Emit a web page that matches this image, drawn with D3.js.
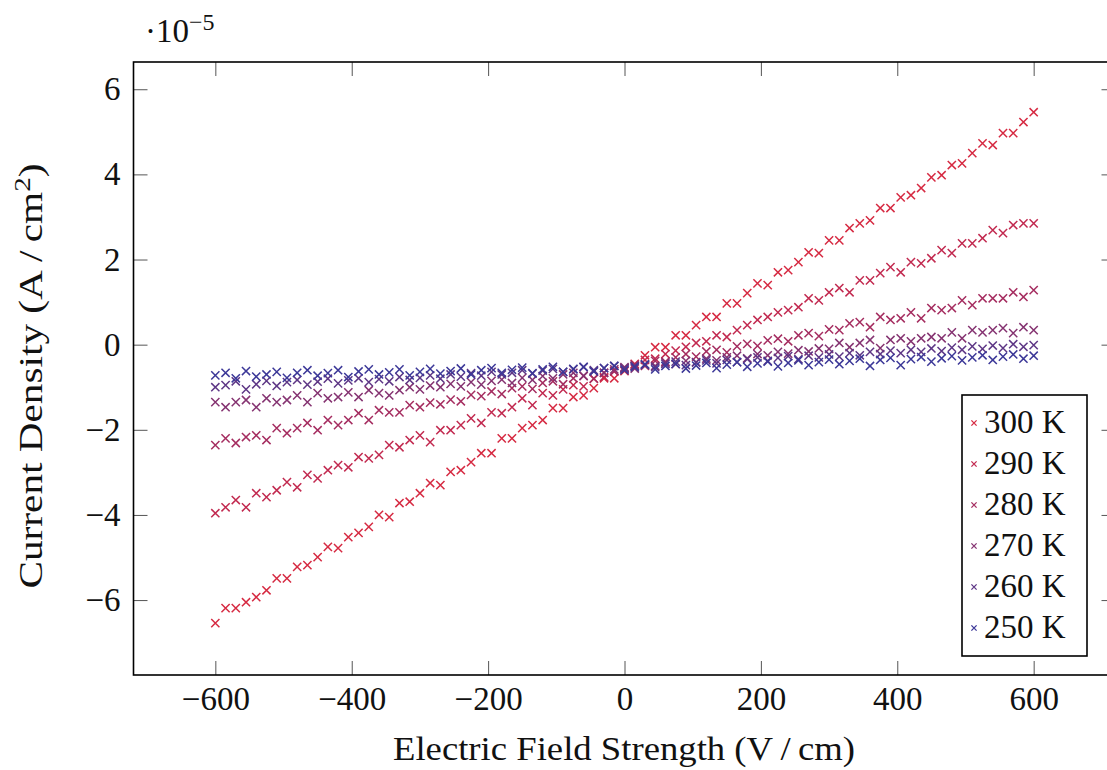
<!DOCTYPE html>
<html>
<head>
<meta charset="utf-8">
<script src="https://cdn.jsdelivr.net/npm/d3@7"></script>
<style>
    html, body { margin: 0; padding: 0; background: #fff; }
    svg { display: block; font-family: "Liberation Serif", "Times New Roman", serif; }
</style>
</head>
<body>
<div id="chart"></div>
<script>
// Champ électrique (V/cm)
const fieldStrength = [
    -600, -585, -570, -555, -540, -525, -510, -495, -480, -465, -450, -435, -420, -405, -390, -375, -360, -345, -330, -315,
    -300, -285, -270, -255, -240, -225, -210, -195, -180, -165, -150, -135, -120, -105, -90, -75, -60, -45, -30, -15,
    0, 15, 30, 45, 60, 75, 90, 105, 120, 135, 150, 165, 180, 195, 210, 225, 240, 255, 270, 285,
    300, 315, 330, 345, 360, 375, 390, 405, 420, 435, 450, 465, 480, 495, 510, 525, 540, 555, 570, 585, 600
];

// Densité de courant (x 1e-5 A/cm²), une série par température
const current300 = [
    -6.54, -6.19, -6.19, -6.05, -5.93, -5.77, -5.49, -5.49, -5.22, -5.18, -4.99, -4.75, -4.78, -4.52, -4.42, -4.28, -4.00, -4.05, -3.72, -3.69,
    -3.49, -3.25, -3.30, -2.99, -2.95, -2.76, -2.55, -2.55, -2.20, -2.20, -1.96, -1.89, -1.77, -1.49, -1.49, -1.23, -1.19, -1.02, -0.79, -0.79,
    -0.62, -0.45, -0.25, -0.06, -0.06, 0.22, 0.22, 0.46, 0.65, 0.65, 0.97, 0.97, 1.21, 1.44, 1.40, 1.70, 1.75, 1.94, 2.17, 2.15,
    2.45, 2.45, 2.74, 2.85, 2.92, 3.21, 3.21, 3.46, 3.51, 3.68, 3.93, 3.98, 4.22, 4.26, 4.50, 4.73, 4.69, 4.97, 4.97, 5.23, 5.46
];
const current290 = [
    -3.96, -3.82, -3.65, -3.82, -3.49, -3.58, -3.42, -3.23, -3.35, -3.06, -3.14, -2.95, -2.83, -2.88, -2.64, -2.67, -2.59, -2.36, -2.41, -2.24,
    -2.13, -2.29, -2.01, -2.01, -1.89, -1.73, -1.84, -1.59, -1.61, -1.47, -1.26, -1.42, -1.14, -1.19, -1.05, -0.95, -0.98, -0.80, -0.76, -0.62,
    -0.56, -0.50, -0.36, -0.33, -0.22, -0.14, -0.05, 0.04, 0.08, 0.22, 0.18, 0.34, 0.46, 0.58, 0.65, 0.76, 0.81, 0.88, 1.09, 1.04,
    1.23, 1.33, 1.23, 1.51, 1.51, 1.68, 1.82, 1.70, 1.94, 1.91, 2.03, 2.22, 2.15, 2.38, 2.38, 2.50, 2.69, 2.62, 2.81, 2.85, 2.85
];
const current280 = [
    -2.36, -2.20, -2.31, -2.17, -2.13, -2.24, -1.96, -2.08, -1.96, -1.84, -2.01, -1.77, -1.89, -1.77, -1.61, -1.77, -1.54, -1.59, -1.59, -1.42,
    -1.47, -1.36, -1.40, -1.29, -1.33, -1.18, -1.21, -1.10, -1.16, -1.02, -0.98, -1.04, -0.90, -0.86, -0.93, -0.79, -0.74, -0.80, -0.66, -0.63,
    -0.55, -0.47, -0.50, -0.38, -0.40, -0.30, -0.22, -0.28, -0.16, -0.12, -0.18, -0.04, 0.02, -0.03, 0.10, 0.14, 0.08, 0.22, 0.27, 0.20,
    0.36, 0.34, 0.50, 0.53, 0.41, 0.65, 0.58, 0.62, 0.76, 0.62, 0.86, 0.81, 0.86, 1.04, 0.93, 1.09, 1.09, 1.09, 1.23, 1.12, 1.28
];
const current270 = [
    -1.35, -1.47, -1.35, -1.30, -1.47, -1.26, -1.35, -1.30, -1.19, -1.35, -1.14, -1.26, -1.23, -1.12, -1.23, -1.07, -1.14, -1.19, -1.07, -1.00,
    -1.05, -0.96, -1.00, -0.92, -0.98, -0.88, -0.94, -0.85, -0.82, -0.90, -0.78, -0.83, -0.74, -0.79, -0.70, -0.66, -0.73, -0.62, -0.66, -0.58,
    -0.53, -0.56, -0.48, -0.50, -0.42, -0.46, -0.38, -0.41, -0.33, -0.37, -0.30, -0.26, -0.32, -0.22, -0.25, -0.17, -0.21, -0.13, -0.16, -0.09,
    -0.10, 0.04, -0.06, 0.04, 0.11, -0.08, 0.11, 0.15, 0.08, 0.15, 0.18, 0.15, 0.29, 0.15, 0.34, 0.29, 0.34, 0.39, 0.27, 0.41, 0.34
];
const current260 = [
    -1.00, -0.95, -0.86, -1.05, -0.93, -0.85, -0.97, -0.88, -0.83, -0.94, -0.87, -0.80, -0.91, -0.84, -0.79, -0.88, -0.81, -0.86, -0.76, -0.83,
    -0.78, -0.72, -0.80, -0.70, -0.75, -0.67, -0.73, -0.64, -0.70, -0.66, -0.60, -0.68, -0.61, -0.57, -0.64, -0.58, -0.53, -0.60, -0.55, -0.50,
    -0.56, -0.50, -0.46, -0.53, -0.45, -0.40, -0.48, -0.42, -0.37, -0.44, -0.36, -0.41, -0.34, -0.30, -0.38, -0.31, -0.27, -0.34, -0.26, -0.30,
    -0.23, -0.28, -0.20, -0.25, -0.17, -0.22, -0.14, -0.20, -0.12, -0.17, -0.09, -0.15, -0.07, -0.12, -0.04, -0.10, -0.02, -0.08, 0.01, -0.05, -0.01
];
const current250 = [
    -0.72, -0.66, -0.79, -0.62, -0.75, -0.70, -0.64, -0.78, -0.66, -0.60, -0.73, -0.67, -0.60, -0.76, -0.63, -0.58, -0.70, -0.65, -0.58, -0.72,
    -0.64, -0.57, -0.68, -0.62, -0.56, -0.70, -0.60, -0.55, -0.66, -0.59, -0.54, -0.67, -0.58, -0.52, -0.64, -0.57, -0.52, -0.63, -0.55, -0.50,
    -0.60, -0.53, -0.47, -0.58, -0.50, -0.45, -0.56, -0.49, -0.43, -0.55, -0.47, -0.41, -0.52, -0.44, -0.40, -0.51, -0.43, -0.37, -0.48, -0.41,
    -0.35, -0.46, -0.38, -0.33, -0.50, -0.36, -0.31, -0.48, -0.34, -0.29, -0.40, -0.32, -0.27, -0.37, -0.30, -0.25, -0.36, -0.28, -0.23, -0.33, -0.26
];

const temperatureLabels = ['300 K', '290 K', '280 K', '270 K', '260 K', '250 K'];
const seriesValues = [current300, current290, current280, current270, current260, current250];

const xTicks = [-600, -400, -200, 0, 200, 400, 600];
const yTicks = [-6, -4, -2, 0, 2, 4, 6];

// Couleurs : du rouge (300 K) vers le bleu (250 K)
const seriesColors = ['#d62a42', '#c22a50', '#a52d60', '#853371', '#5e3786', '#3c3898'];

const WIDTH = 1107;
const HEIGHT = 770;
const PLOT = { left: 133.5, right: 1115.5, top: 62, bottom: 675 };
const TICK = 14;

const fmtMinus = d => (d < 0 ? '\u2212' + Math.abs(d) : String(d));

function renderChart() {
    const svg = d3.select('#chart').append('svg')
        .attr('width', WIDTH)
        .attr('height', HEIGHT);

    const x = d3.scaleLinear().domain([-720, 720]).range([PLOT.left, PLOT.right]);
    const y = d3.scaleLinear().domain([-7.76, 6.64]).range([PLOT.bottom, PLOT.top]);

    // Axes (graduations vers l'intérieur sur les quatre côtés)
    const styleAxis = g => {
        g.select('.domain').remove();
        g.selectAll('.tick line').attr('stroke', '#555').attr('stroke-width', 1);
        g.selectAll('.tick text')
            .attr('fill', '#111')
            .attr('font-size', 33)
            .attr('font-family', '"Liberation Serif", serif');
    };

    svg.append('g')
        .attr('transform', `translate(0,${PLOT.bottom})`)
        .call(d3.axisBottom(x).tickValues(xTicks).tickSize(-TICK).tickPadding(12).tickFormat(fmtMinus))
        .call(styleAxis);

    svg.append('g')
        .attr('transform', `translate(0,${PLOT.top})`)
        .call(d3.axisTop(x).tickValues(xTicks).tickSize(-TICK).tickFormat(''))
        .call(styleAxis);

    svg.append('g')
        .attr('transform', `translate(${PLOT.left},0)`)
        .call(d3.axisLeft(y).tickValues(yTicks).tickSize(-TICK).tickPadding(13).tickFormat(fmtMinus))
        .call(styleAxis);

    svg.append('g')
        .attr('transform', `translate(${PLOT.right},0)`)
        .call(d3.axisRight(y).tickValues(yTicks).tickSize(-TICK).tickFormat(''))
        .call(styleAxis);

    // Séries (marqueurs en croix)
    const cross = s => `M${-s},${-s}L${s},${s}M${-s},${s}L${s},${-s}`;

    seriesValues.forEach((values, i) => {
        svg.append('g')
            .selectAll('path')
            .data(values.map((v, k) => ({ x: fieldStrength[k], y: v })))
            .enter()
            .append('path')
            .attr('transform', d => `translate(${x(d.x)},${y(d.y)})`)
            .attr('d', cross(4.1))
            .attr('fill', 'none')
            .attr('stroke', seriesColors[i])
            .attr('stroke-width', 1.5);
    });

    // Cadre
    svg.append('rect')
        .attr('x', PLOT.left)
        .attr('y', PLOT.top)
        .attr('width', PLOT.right - PLOT.left)
        .attr('height', PLOT.bottom - PLOT.top)
        .attr('fill', 'none')
        .attr('stroke', '#000')
        .attr('stroke-width', 1.6);

    // Facteur d'échelle
    const scaleText = svg.append('text')
        .attr('x', 145)
        .attr('y', 42)
        .attr('font-size', 33)
        .attr('fill', '#111');
    scaleText.append('tspan').text('\u00B710');
    scaleText.append('tspan').attr('font-size', 24).attr('dy', -12).text('\u22125');

    // Titres des axes
    svg.append('text')
        .attr('x', 624)
        .attr('y', 760)
        .attr('text-anchor', 'middle')
        .attr('font-size', 34)
        .attr('fill', '#111')
        .attr('textLength', 462)
        .attr('lengthAdjust', 'spacingAndGlyphs')
        .text('Electric Field Strength (V\u2009/\u2009cm)');

    const yLabel = svg.append('text')
        .attr('transform', 'translate(42,376) rotate(-90)')
        .attr('text-anchor', 'middle')
        .attr('font-size', 34)
        .attr('fill', '#111')
        .attr('textLength', 425)
        .attr('lengthAdjust', 'spacingAndGlyphs');
    yLabel.append('tspan').text('Current Density (A\u2009/\u2009cm');
    yLabel.append('tspan').attr('font-size', 24).attr('dy', -12).text('2');
    yLabel.append('tspan').attr('dy', 12).text(')');

    // Légende
    const legend = svg.append('g');
    legend.append('rect')
        .attr('x', 962)
        .attr('y', 395)
        .attr('width', 125)
        .attr('height', 261)
        .attr('fill', '#fff')
        .attr('stroke', '#000')
        .attr('stroke-width', 1.6);

    temperatureLabels.forEach((label, i) => {
        const baseY = 433 + i * 41;
        legend.append('path')
            .attr('transform', `translate(974,${baseY - 10})`)
            .attr('d', cross(2.6))
            .attr('fill', 'none')
            .attr('stroke', seriesColors[i])
            .attr('stroke-width', 1.3);
        legend.append('text')
            .attr('x', 984)
            .attr('y', baseY)
            .attr('font-size', 33)
            .attr('fill', '#111')
            .text(label);
    });
}

document.addEventListener('DOMContentLoaded', renderChart);
</script>
</body>
</html>
